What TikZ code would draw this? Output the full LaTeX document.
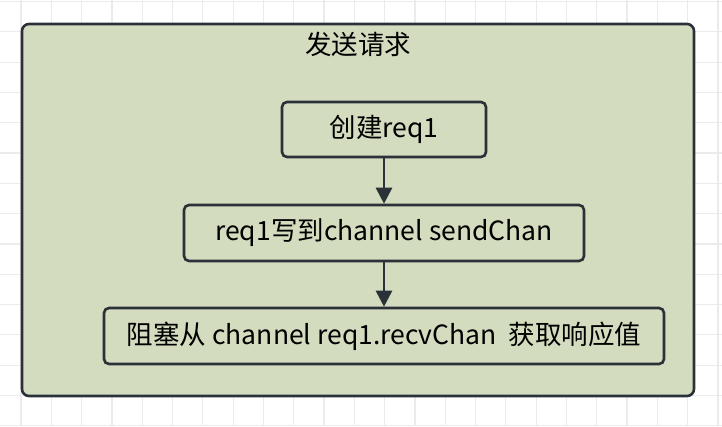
\documentclass[tikz,border=0pt]{standalone}
\usepackage{fontspec}
\setmainfont{Noto Sans CJK SC}
\usetikzlibrary{arrows.meta}
\definecolor{grp}{HTML}{D3DCBE}
\definecolor{edge}{HTML}{2B3138}
\tikzset{box/.style={draw=edge,line width=2.6pt,rounded corners=5pt,fill=grp,inner sep=0pt,font=\fontsize{26.5}{31}\selectfont},
arr/.style={draw=edge,line width=2.8pt,-{Triangle[length=16pt,width=16pt]}}}
\begin{document}
\begin{tikzpicture}[x=1pt,y=-1pt]
\useasboundingbox (0,0) rectangle (722,426);
\foreach \i in {0,...,23} {\draw[black!8,line width=1.2pt] (21+30.3*\i,0) -- (21+30.3*\i,426);}
\foreach \j in {0,...,14} {\draw[black!8,line width=1.2pt] (0,1.5+30.3*\j) -- (722,1.5+30.3*\j);}
\node[box,minimum width=672,minimum height=372,rounded corners=7pt] (g) at (358,210) {};
\node[font=\fontsize{26.5}{31}\selectfont] (t) at (358,44) {发送请求};
\node[box,minimum width=204,minimum height=55] (a) at (384,129.5) {创建req1};
\node[box,minimum width=400,minimum height=56] (b) at (384,233) {req1写到channel sendChan};
\node[box,minimum width=560,minimum height=56] (c) at (384,336) {阻塞从 channel req1.recvChan\ \ 获取响应值};
\draw[arr] (a) -- (b);
\draw[arr] (b) -- (c);
\end{tikzpicture}
\end{document}
